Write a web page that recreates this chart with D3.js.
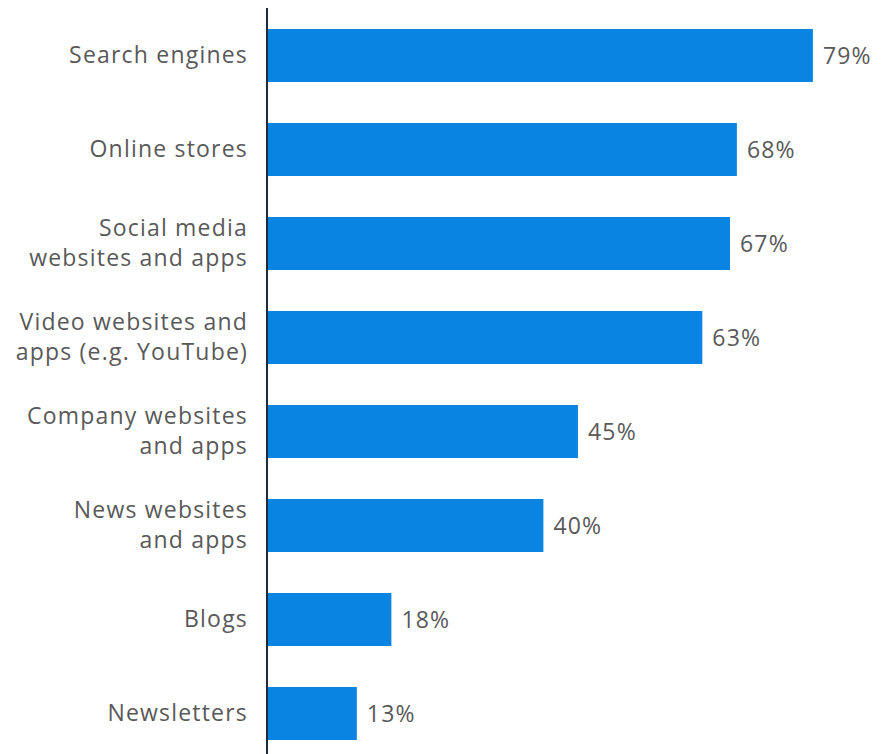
<!DOCTYPE html>
<html>
<head>
<meta charset="utf-8">
<script src="https://cdn.jsdelivr.net/npm/d3@7"></script>
<style>
  html, body { margin: 0; padding: 0; background: #fff; }
  svg text { font-family: "Open Sans", "Noto Sans", sans-serif; fill: #595959; }
</style>
</head>
<body>
<svg id="chart" width="893" height="754"></svg>
<script>
// Share of respondents using each source (%)
const categories = [
  ["Search engines"],
  ["Online stores"],
  ["Social media", "websites and apps"],
  ["Video websites and", "apps (e.g. YouTube)"],
  ["Company websites", "and apps"],
  ["News websites", "and apps"],
  ["Blogs"],
  ["Newsletters"]
];
const values = [79, 68, 67, 63, 45, 40, 18, 13];

const keys = categories.map(c => c.join(" "));
const svg = d3.select("#chart");

const x = d3.scaleLinear().domain([0, 100]).range([267, 958]);
const y = d3.scaleBand()
  .domain(keys)
  .range([8.5, 760.5])
  .paddingInner(0.436)
  .paddingOuter(0.218);

// bars
svg.append("g").selectAll("rect")
  .data(values)
  .join("rect")
  .attr("x", x(0))
  .attr("y", (d, i) => y(keys[i]))
  .attr("width", d => x(d) - x(0))
  .attr("height", y.bandwidth())
  .attr("fill", "#0a84e3");

// value labels
svg.append("g").selectAll("text")
  .data(values)
  .join("text")
  .attr("x", d => x(d) + 10)
  .attr("y", (d, i) => y(keys[i]) + y.bandwidth() / 2)
  .attr("dy", "0.35em")
  .style("font-size", "23px")
  .style("letter-spacing", "1.2px")
  .text(d => d + "%");

// category axis
const axis = svg.append("g")
  .attr("transform", `translate(${x(0)},0)`)
  .call(d3.axisLeft(y).tickSize(0).tickPadding(20));

axis.select(".domain")
  .attr("d", "M0,8V754")
  .attr("stroke", "#1b2c3e")
  .attr("stroke-width", 2);

axis.selectAll(".tick text").each(function (d, i) {
  const lines = categories[i];
  const t = d3.select(this)
    .text(null)
    .attr("fill", null)
    .style("font-size", "23px")
    .style("letter-spacing", "1.2px")
    .attr("dy", null);
  const lh = 30;
  lines.forEach((line, j) => {
    t.append("tspan")
      .attr("x", -19)
      .attr("y", (j - (lines.length - 1) / 2) * lh)
      .attr("dy", "0.32em")
      .text(line);
  });
});
</script>
</body>
</html>
